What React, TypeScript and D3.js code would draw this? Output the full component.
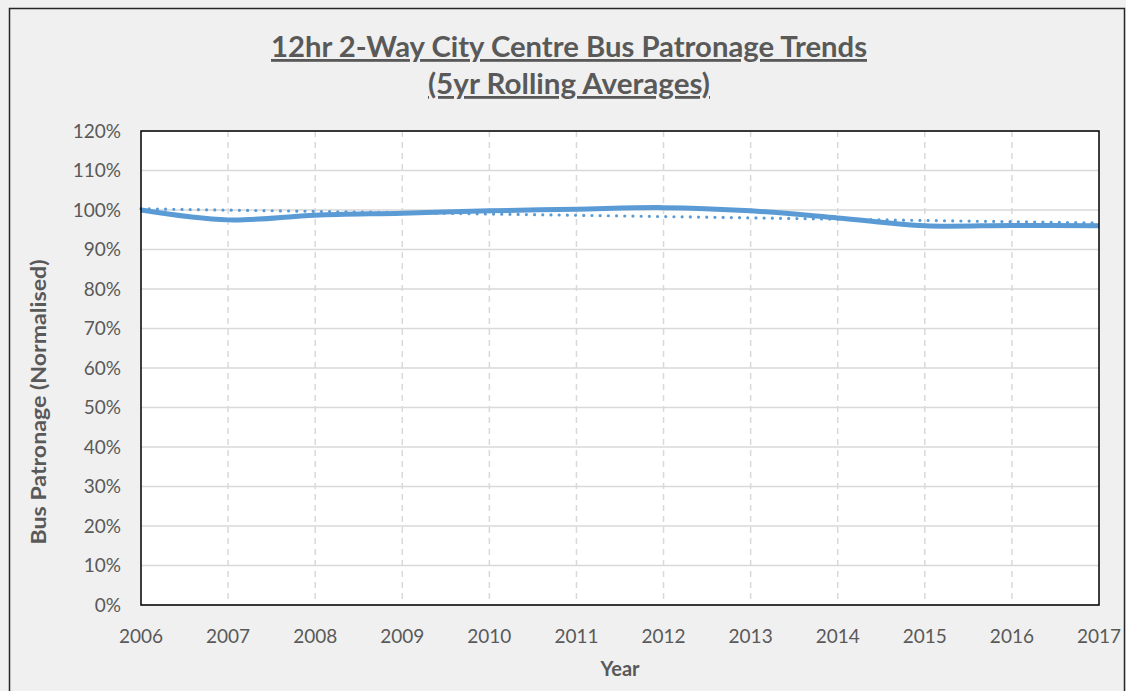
import React, { useEffect, useRef } from "react";
import * as d3 from "d3";

const years = [2006, 2007, 2008, 2009, 2010, 2011, 2012, 2013, 2014, 2015, 2016, 2017];
const patronage = [100, 97.5, 98.7, 99.2, 99.8, 100.2, 100.6, 99.8, 98.0, 96.0, 96.1, 96.0];
const trendYears = [2006, 2017];
const trendValues = [100.3, 96.7];
const yTicks = [0, 10, 20, 30, 40, 50, 60, 70, 80, 90, 100, 110, 120];

const W = 1126;
const H = 691;

export default function App() {
  const ref = useRef<SVGSVGElement>(null);

  useEffect(() => {
    const svg = d3.select(ref.current);
    svg.selectAll("*").remove();

    const margin = { top: 131, right: 27, bottom: 86, left: 141 };
    const width = W - margin.left - margin.right;
    const height = H - margin.top - margin.bottom;
    const textColor = "#595959";
    const font = "Lato, 'Open Sans', sans-serif";
    const blue = "#5B9BD5";

    // chart frame
    svg.append("rect").attr("width", W).attr("height", H).attr("fill", "#f0f0f0");
    svg.append("rect")
      .attr("x", 9.5).attr("y", 8.5)
      .attr("width", 1115).attr("height", 700)
      .attr("fill", "none").attr("stroke", "#262626").attr("stroke-width", 1.5);

    const x = d3.scaleLinear().domain([2006, 2017]).range([0, width]);
    const y = d3.scaleLinear().domain([0, 120]).range([height, 0]);

    const g = svg.append("g").attr("transform", `translate(${margin.left},${margin.top})`);

    g.append("rect").attr("width", width).attr("height", height).attr("fill", "#fff");

    // horizontal grid
    g.selectAll(".hgrid")
      .data(yTicks)
      .join("line")
      .attr("x1", 0).attr("x2", width)
      .attr("y1", d => y(d)).attr("y2", d => y(d))
      .attr("stroke", "#d9d9d9").attr("stroke-width", 1.5);

    // vertical dashed grid
    g.selectAll(".vgrid")
      .data(years.slice(1, -1))
      .join("line")
      .attr("x1", d => x(d)).attr("x2", d => x(d))
      .attr("y1", 0).attr("y2", height)
      .attr("stroke", "#d9d9d9").attr("stroke-width", 1.5)
      .attr("stroke-dasharray", "6 5");

    // trendline
    const trend = d3.line<number>()
      .x((d, i) => x(trendYears[i]))
      .y(d => y(d));
    g.append("path")
      .attr("d", trend(trendValues))
      .attr("fill", "none")
      .attr("stroke", blue)
      .attr("stroke-width", 3.2)
      .attr("stroke-linecap", "round")
      .attr("stroke-dasharray", "0 8.2");

    // smoothed series
    const line = d3.line<number>()
      .x((d, i) => x(years[i]))
      .y(d => y(d))
      .curve(d3.curveCardinal.tension(0));
    g.append("path")
      .attr("d", line(patronage))
      .attr("fill", "none")
      .attr("stroke", blue)
      .attr("stroke-width", 5);

    // plot border
    g.append("rect")
      .attr("width", width).attr("height", height)
      .attr("fill", "none").attr("stroke", "#000").attr("stroke-width", 1.5);

    // y tick labels
    g.selectAll(".ylab")
      .data(yTicks)
      .join("text")
      .attr("x", -20)
      .attr("y", d => y(d))
      .attr("dy", "0.35em")
      .attr("text-anchor", "end")
      .attr("font-family", font)
      .attr("font-size", 19)
      .attr("fill", textColor)
      .text(d => `${d}%`);

    // x tick labels
    g.selectAll(".xlab")
      .data(years)
      .join("text")
      .attr("x", d => x(d))
      .attr("y", height + 38)
      .attr("text-anchor", "middle")
      .attr("font-family", font)
      .attr("font-size", 19)
      .attr("fill", textColor)
      .text(d => d);

    // axis titles
    svg.append("text")
      .attr("x", margin.left + width / 2)
      .attr("y", 676)
      .attr("text-anchor", "middle")
      .attr("font-family", font)
      .attr("font-weight", "bold")
      .attr("font-size", 20)
      .attr("fill", textColor)
      .text("Year");

    svg.append("text")
      .attr("transform", `translate(46, ${402}) rotate(-90)`)
      .attr("text-anchor", "middle")
      .attr("font-family", font)
      .attr("font-weight", "bold")
      .attr("font-size", 20)
      .attr("fill", textColor)
      .attr("textLength", 285)
      .attr("lengthAdjust", "spacingAndGlyphs")
      .text("Bus Patronage (Normalised)");

    // title
    const titles = [
      { text: "12hr 2-Way City Centre Bus Patronage Trends", y: 57, len: 596 },
      { text: "(5yr Rolling Averages)", y: 94, len: 282 },
    ];
    svg.selectAll(".title")
      .data(titles)
      .join("text")
      .attr("x", 569)
      .attr("y", d => d.y)
      .attr("text-anchor", "middle")
      .attr("font-family", font)
      .attr("font-weight", "bold")
      .attr("font-size", 28)
      .attr("fill", textColor)
      .attr("text-decoration", "underline")
      .attr("textLength", d => d.len)
      .attr("lengthAdjust", "spacingAndGlyphs")
      .text(d => d.text);
  }, []);

  return (
    <svg
      ref={ref}
      width={W}
      height={H}
      style={{ position: "absolute", left: 0, top: 0, display: "block" }}
    />
  );
}
